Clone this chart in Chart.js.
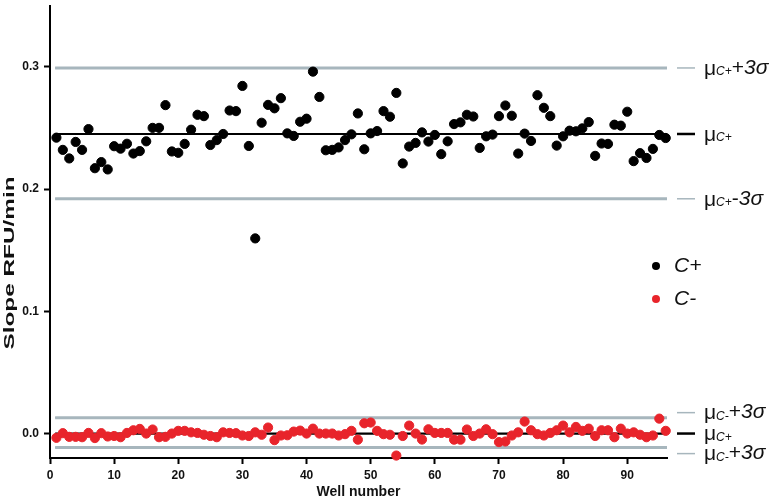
<!DOCTYPE html>
<html>
<head>
<meta charset="utf-8">
<script src="https://cdn.jsdelivr.net/npm/chart.js@4/dist/chart.umd.min.js"></script>
<style>
  html, body { margin: 0; padding: 0; background: #fff; }
  #wrap { width: 777px; height: 501px; }
</style>
</head>
<body>
<div id="wrap"><canvas id="qcChart" width="777" height="501"></canvas></div>
<script>
// well numbers of the 96-well plate
const wells = [
  1, 2, 3, 4, 5, 6, 7, 8, 9, 10, 11, 12, 13, 14, 15, 16, 17, 18, 19, 20,
  21, 22, 23, 24, 25, 26, 27, 28, 29, 30, 31, 32, 33, 34, 35, 36, 37, 38, 39, 40,
  41, 42, 43, 44, 45, 46, 47, 48, 49, 50, 51, 52, 53, 54, 55, 56, 57, 58, 59, 60,
  61, 62, 63, 64, 65, 66, 67, 68, 69, 70, 71, 72, 73, 74, 75, 76, 77, 78, 79, 80,
  81, 82, 83, 84, 85, 86, 87, 88, 89, 90, 91, 92, 93, 94, 95, 96
];

// positive control slopes
const cPlus = [
  0.242, 0.232, 0.225, 0.2385, 0.232, 0.249, 0.217, 0.222, 0.216, 0.235,
  0.233, 0.237, 0.229, 0.231, 0.239, 0.250, 0.250, 0.2686, 0.2307, 0.2296,
  0.2369, 0.2485, 0.2607, 0.2596, 0.236, 0.240, 0.245, 0.2642, 0.2637, 0.2843,
  0.2352, 0.1596, 0.2542, 0.2688, 0.266, 0.2743, 0.2455, 0.2434, 0.255, 0.2575,
  0.296, 0.2753, 0.2317, 0.232, 0.234, 0.240, 0.2447, 0.2618, 0.2325, 0.2455,
  0.2474, 0.2637, 0.2591, 0.2786, 0.2209, 0.2347, 0.2377, 0.2463, 0.2388, 0.2442,
  0.2285, 0.239, 0.2531, 0.2545, 0.2607, 0.2593, 0.2336, 0.2431, 0.2445, 0.2596,
  0.2683, 0.2599, 0.229, 0.2453, 0.2393, 0.2767, 0.2664, 0.2596, 0.2355, 0.2431,
  0.2477, 0.2472, 0.2496, 0.2547, 0.2271, 0.2372, 0.2369, 0.2526, 0.2518, 0.2632,
  0.2228, 0.2293, 0.2254, 0.2328, 0.2442, 0.2417
];

// negative control slopes
const cMinus = [
  -0.0035, 0.0003, -0.0027, -0.0027, -0.003, 0.0005, -0.0037, 0.0003, -0.0024, -0.002,
  -0.003, 0.0005, 0.0027, 0.0038, 0.0, 0.0033, -0.003, -0.0027, 0.0, 0.0022,
  0.0022, 0.001, 0.0005, -0.001, -0.002, -0.003, 0.001, 0.0005, 0.0003, -0.0016,
  -0.002, 0.001, -0.001, 0.0049, -0.0054, -0.0016, -0.0014, 0.0016, 0.0024, 0.0,
  0.004, 0.0, 0.0, 0.0, -0.0016, -0.0005, 0.0022, -0.005, 0.0084, 0.009,
  0.0022, -0.0005, -0.001, -0.018, -0.002, 0.0065, 0.0, -0.0049, 0.0035, 0.0005,
  0.0005, 0.0005, -0.005, -0.005, 0.0033, -0.002, 0.0, 0.0035, -0.0005, -0.007,
  -0.0065, -0.0016, 0.001, 0.0098, 0.0027, -0.0005, -0.0016, 0.0005, 0.0027, 0.0065,
  0.001, 0.0054, 0.0022, 0.004, -0.002, 0.0027, 0.0027, -0.003, 0.004, 0.0,
  0.001, -0.001, -0.003, -0.0016, 0.0122, 0.0022
];

// control limits: mean and mean +/- 3 sigma
const cPlusLimits = { upper: 0.299, mean: 0.245, lower: 0.192 };
const cMinusLimits = { upper: 0.013, mean: 0.0, lower: -0.0115 };
const limitSpan = [0.8, 96.2];

const yTicks = [0, 0.1, 0.2, 0.3];
const xTicks = [0, 10, 20, 30, 40, 50, 60, 70, 80, 90];

function hLine(v, color, width, dash) {
  return {
    type: 'line',
    data: limitSpan.map(x => ({ x: x, y: v })),
    borderColor: color,
    borderWidth: width,
    borderDash: dash || [],
    pointRadius: 0,
    order: 2,
    clip: false
  };
}

const grey = '#a7b6bd';
const lineSets = [];
[cPlusLimits.upper, cPlusLimits.lower, cMinusLimits.upper, cMinusLimits.lower].forEach(v => {
  lineSets.push(hLine(v, grey, 3));
  lineSets.push(hLine(v, '#8e9ea6', 1, [2, 2]));
});
[cPlusLimits.mean, cMinusLimits.mean].forEach(v => {
  lineSets.push(hLine(v, '#000', 2.2));
  lineSets.push(hLine(v, '#555', 0.8, [2, 2]));
});

// labels at the right of the plot
const sideLabels = [
  { v: cPlusLimits.upper, off: 0, sub: 'C+', tail: ['+', '3σ'], color: grey },
  { v: cPlusLimits.mean, off: 0, sub: 'C+', tail: null, color: '#000' },
  { v: cPlusLimits.lower, off: 0, sub: 'C+', tail: ['-', '3σ'], color: grey },
  { v: cMinusLimits.upper, off: -5, sub: 'C-', tail: ['+', '3σ'], color: grey },
  { v: cMinusLimits.mean, off: 0, sub: 'C+', tail: null, color: '#000' },
  { v: cMinusLimits.lower, off: 6, sub: 'C-', tail: ['+', '3σ'], color: grey }
];

const sidePlugin = {
  id: 'sideLabels',
  afterDraw(chart) {
    const ctx = chart.ctx;
    const y = chart.scales.y;
    const area = chart.chartArea;
    const right = area.right;
    ctx.save();
    ctx.textBaseline = 'middle';
    sideLabels.forEach(l => {
      const py = y.getPixelForValue(l.v) + l.off;
      ctx.strokeStyle = l.color;
      ctx.lineWidth = l.color === '#000' ? 2.5 : 1.5;
      ctx.beginPath();
      ctx.moveTo(right + 10, py);
      ctx.lineTo(right + 28, py);
      ctx.stroke();
      let x = right + 37;
      ctx.fillStyle = '#111';
      ctx.font = '21px "Liberation Sans", Arial';
      ctx.fillText('μ', x, py + 1);
      x += ctx.measureText('μ').width;
      ctx.font = 'italic 12px "Liberation Sans", Arial';
      ctx.fillText(l.sub, x, py + 4);
      x += ctx.measureText(l.sub).width;
      if (l.tail) {
        ctx.font = '21px "Liberation Sans", Arial';
        ctx.fillText(l.tail[0], x, py);
        x += ctx.measureText(l.tail[0]).width;
        ctx.font = 'italic 21px "Liberation Sans", Arial';
        ctx.fillText(l.tail[1], x, py);
      }
    });
    // legend
    const legend = [
      { text: 'C+', color: '#000', py: 266 },
      { text: 'C-', color: '#e8242b', py: 299 }
    ];
    legend.forEach(g => {
      ctx.fillStyle = g.color;
      ctx.beginPath();
      ctx.arc(656, g.py, 4, 0, Math.PI * 2);
      ctx.fill();
      ctx.fillStyle = '#111';
      ctx.font = 'italic 21px "Liberation Sans", Arial';
      ctx.fillText(g.text, 674, g.py);
    });
    // y axis title, drawn stretched like the original
    ctx.save();
    ctx.translate(10, 263);
    ctx.rotate(-Math.PI / 2);
    ctx.font = 'bold 15px "Liberation Sans", Arial';
    const w = ctx.measureText('Slope RFU/min').width;
    ctx.scale(173 / w, 1);
    ctx.textAlign = 'center';
    ctx.fillStyle = '#111';
    ctx.fillText('Slope RFU/min', 0, 0);
    ctx.restore();
    ctx.restore();
  }
};

const ctx = document.getElementById('qcChart').getContext('2d');
new Chart(ctx, {
  type: 'scatter',
  data: {
    datasets: [
      {
        label: 'C+',
        data: wells.map((w, i) => ({ x: w, y: cPlus[i] })),
        backgroundColor: '#000',
        borderColor: '#000',
        pointRadius: 4.6,
        order: 0,
        clip: false
      },
      {
        label: 'C-',
        data: wells.map((w, i) => ({ x: w, y: cMinus[i] })),
        backgroundColor: '#e8242b',
        borderColor: '#e8242b',
        pointRadius: 4.6,
        order: 0,
        clip: false
      }
    ].concat(lineSets)
  },
  options: {
    responsive: false,
    animation: false,
    layout: { padding: { top: 1, right: 110, left: 0, bottom: 0 } },
    plugins: {
      legend: { display: false },
      tooltip: { enabled: false }
    },
    scales: {
      x: {
        type: 'linear',
        min: 0,
        max: 96.2,
        afterBuildTicks: s => { s.ticks = xTicks.map(v => ({ value: v })); },
        afterFit: s => { s.height = 43; s.paddingLeft = 0; s.paddingRight = 0; },
        grid: { display: true, drawOnChartArea: false, tickLength: 6, tickColor: '#000', tickWidth: 2 },
        border: { display: true, color: '#000', width: 2 },
        ticks: {
          color: '#111',
          font: { family: '"Liberation Sans", Arial', size: 12, weight: 'bold' },
          padding: 4,
          maxRotation: 0
        },
        title: {
          display: true,
          text: 'Well number',
          color: '#111',
          font: { family: '"Liberation Sans", Arial', size: 14, weight: 'bold' },
          padding: { top: 4, bottom: 0 }
        }
      },
      y: {
        type: 'linear',
        min: -0.02,
        max: 0.35,
        afterBuildTicks: s => { s.ticks = yTicks.map(v => ({ value: v })); },
        afterFit: s => { s.width = 50; s.paddingTop = 0; s.paddingBottom = 0; },
        grid: { display: true, drawOnChartArea: false, tickLength: 6, tickColor: '#000', tickWidth: 2 },
        border: { display: true, color: '#000', width: 2 },
        ticks: {
          color: '#111',
          font: { family: '"Liberation Sans", Arial', size: 12, weight: 'bold' },
          padding: 5,
          callback: v => v.toFixed(1)
        }
      }
    }
  },
  plugins: [sidePlugin]
});
</script>
</body>
</html>
